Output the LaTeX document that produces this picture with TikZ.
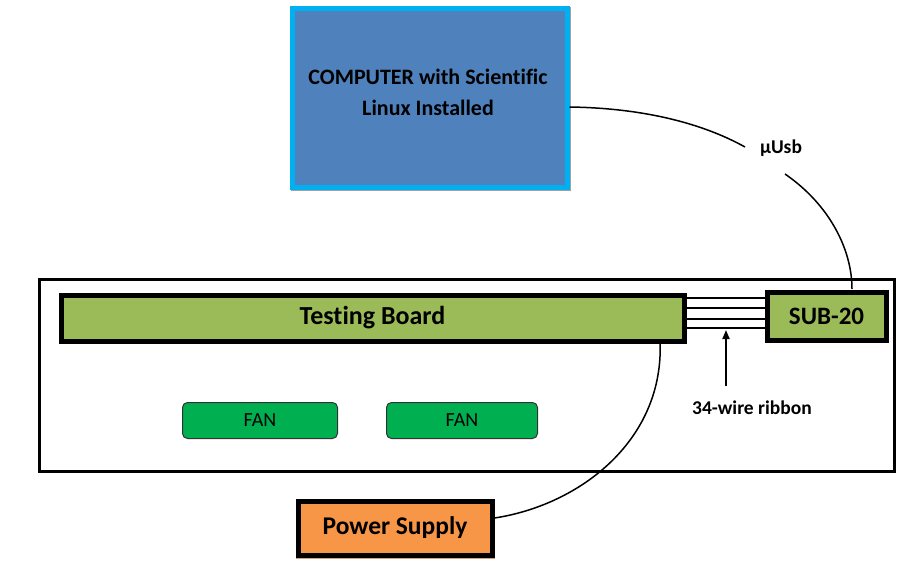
\documentclass[tikz,border=0pt]{standalone}
\usepackage{fontspec}
\setmainfont[Ligatures=NoCommon]{Carlito}
\usetikzlibrary{arrows.meta}
\definecolor{compblue}{HTML}{4F81BD}
\definecolor{compcyan}{HTML}{00B0F0}
\definecolor{boardgreen}{HTML}{9BBB59}
\definecolor{fangreen}{HTML}{00B050}
\definecolor{psorange}{HTML}{F79646}
\definecolor{shadowgray}{HTML}{A0A0A0}
\definecolor{shadowgreen}{HTML}{A8B890}
\definecolor{shadowbrown}{HTML}{D0A080}
\tikzset{
  x=1pt,y=-1pt,
  boardbox/.style={draw=black,line width=5pt,fill=boardgreen,font=\bfseries\fontsize{26}{30}\selectfont,inner sep=0pt},
  fanbox/.style={draw=black!80,line width=1pt,fill=fangreen,rounded corners=5pt,font=\fontsize{20}{24}\selectfont},
  lbl/.style={font=\bfseries\fontsize{19.5}{23}\selectfont,inner sep=1pt},
  wire/.style={line width=1.5pt},
}
\begin{document}
\begin{tikzpicture}
\useasboundingbox (0,0) rectangle (910,565);
% computer
\fill[shadowgray] (291,7) rectangle (571,191);
\node[draw=compcyan,line width=5pt,fill=compblue,minimum width=275pt,minimum height=179pt,anchor=north west] (comp) at (289.5,5.5) {};
\node[align=center,font=\bfseries\fontsize{22}{31}\selectfont] (comptext) at (428,92) {COMPUTER with Scientific\\Linux Installed};
% enclosure
\node[draw=black,line width=3pt,minimum width=855pt,minimum height=192pt,anchor=north west] (encl) at (37.5,277.5) {};
% testing board
\fill[shadowgreen] (59,293) rectangle (686,343);
\node[boardbox,minimum width=623pt,minimum height=46pt,anchor=north west] (board) at (58.5,292.5) {Testing Board};
% sub-20
\fill[shadowgreen] (765,290) rectangle (889,343);
\node[boardbox,minimum width=119pt,minimum height=48pt,anchor=north west,font=\bfseries\fontsize{25}{30}\selectfont] (sub) at (764.5,289.5) {SUB-20};
% ribbon wires
\foreach \yy in {298,308,319,328}{
  \draw[line width=1.1pt] (board.east |- 0,\yy) -- (sub.west |- 0,\yy);
}
\coordinate (ribtip) at (726,330);
\node[lbl] (riblbl) at (752,408) {34-wire ribbon};
\draw[line width=1.8pt,-{Triangle[length=9pt,width=7pt]}] (726,386) -- (ribtip);
% fans
\node[fanbox,minimum width=155pt,minimum height=36pt,anchor=north west] (fan1) at (182,402) {FAN};
\node[fanbox,minimum width=151pt,minimum height=36pt,anchor=north west] (fan2) at (386,402) {FAN};
% power supply
\fill[shadowbrown] (296,499) rectangle (495,559);
\node[draw=black,line width=5pt,fill=psorange,minimum width=194pt,minimum height=54pt,anchor=north west,font=\bfseries\fontsize{25.5}{30}\selectfont] (ps) at (295.5,498.5) {Power Supply};
% usb label and cable
\node[lbl] (usb) at (781,148) {µUsb};
\draw[wire] (comp.east |- 0,107) .. controls (640,108) and (700,122) .. (745,147);
\draw[wire] (785,174) .. controls (830,205) and (852,250) .. (852,289);
% power cable
\draw[wire] (660,340) .. controls (665,440) and (580,505) .. (ps.east |- 0,518);
\end{tikzpicture}
\end{document}
